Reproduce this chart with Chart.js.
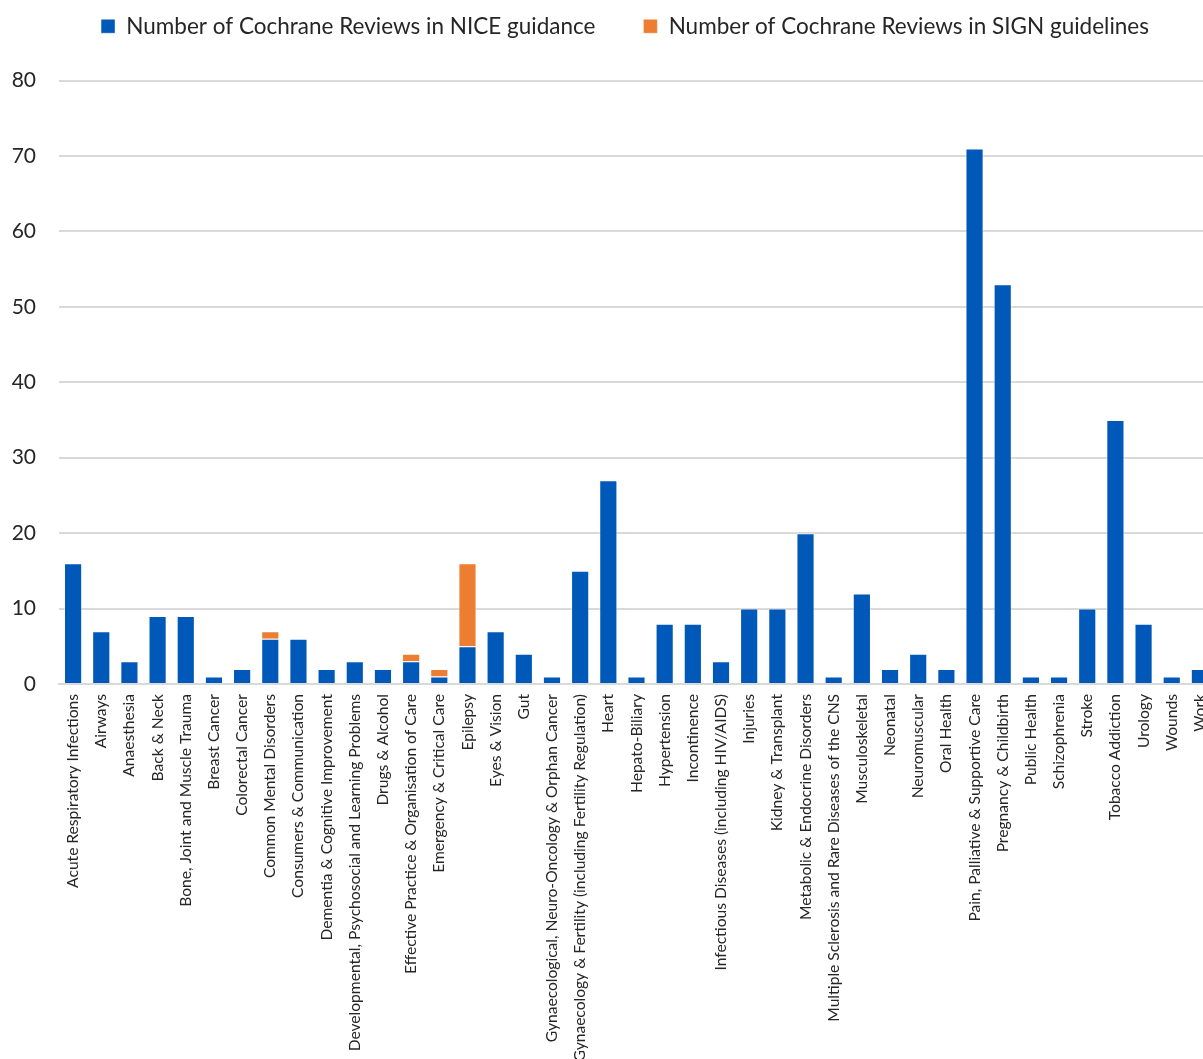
<!DOCTYPE html>
<html>
<head>
<meta charset="utf-8">
<script src="https://cdn.jsdelivr.net/npm/chart.js@4"></script>
<style>
  html, body { margin: 0; padding: 0; background: #fff; overflow: hidden; }
  #wrap { position: absolute; left: 0; top: 0; }
</style>
</head>
<body>
<div id="wrap"><canvas id="reviewsChart" width="1247" height="1090"></canvas></div>
<script>
// categories (Cochrane Review Groups)
const groups = [
    'Acute Respiratory Infections', 'Airways', 'Anaesthesia', 'Back & Neck',
    'Bone, Joint and Muscle Trauma', 'Breast Cancer', 'Colorectal Cancer',
    'Common Mental Disorders', 'Consumers & Communication',
    'Dementia & Cognitive Improvement', 'Developmental, Psychosocial and Learning Problems',
    'Drugs & Alcohol', 'Effective Practice & Organisation of Care',
    'Emergency & Critical Care', 'Epilepsy', 'Eyes & Vision', 'Gut',
    'Gynaecological, Neuro-Oncology & Orphan Cancer',
    'Gynaecology & Fertility (including Fertility Regulation)', 'Heart',
    'Hepato-Biliary', 'Hypertension', 'Incontinence',
    'Infectious Diseases (including HIV/AIDS)', 'Injuries', 'Kidney & Transplant',
    'Metabolic & Endocrine Disorders', 'Multiple Sclerosis and Rare Diseases of the CNS',
    'Musculoskeletal', 'Neonatal', 'Neuromuscular', 'Oral Health',
    'Pain, Palliative & Supportive Care', 'Pregnancy & Childbirth', 'Public Health',
    'Schizophrenia', 'Stroke', 'Tobacco Addiction', 'Urology', 'Wounds', 'Work'
];

const niceCounts = [16, 7, 3, 9, 9, 1, 2, 6, 6, 2, 3, 2, 3, 1, 5, 7, 4, 1, 15, 27,
                    1, 8, 8, 3, 10, 10, 20, 1, 12, 2, 4, 2, 71, 53, 1, 1, 10, 35, 8, 1, 2];
const signCounts = [0, 0, 0, 0, 0, 0, 0, 1, 0, 0, 0, 0, 1, 1, 11, 0, 0, 0, 0, 0,
                    0, 0, 0, 0, 0, 0, 0, 0, 0, 0, 0, 0, 0, 0, 0, 0, 0, 0, 0, 0, 0];

const yTicks = [0, 10, 20, 30, 40, 50, 60, 70, 80];

const FONT = 'Lato, "Noto Sans", sans-serif';
const TEXT = '#262626';

// legend: extra room below it, and nudged a little to the right
const legendTweak = {
    id: 'legendTweak',
    beforeInit: function(chart) {
        const origFit = chart.legend.fit;
        chart.legend.fit = function() {
            origFit.bind(chart.legend)();
            this.height += 33;
        };
    },
    afterLayout: function(chart) {
        chart.legend.left += 18;
        chart.legend.right += 18;
    }
};

new Chart(document.getElementById('reviewsChart').getContext('2d'), {
    type: 'bar',
    data: {
        labels: groups,
        datasets: [{
            label: 'Number of Cochrane Reviews in NICE guidance',
            data: niceCounts,
            backgroundColor: '#0059b8',
            borderColor: 'rgba(255,255,255,0.45)',
            borderWidth: 1
        }, {
            label: 'Number of Cochrane Reviews in SIGN guidelines',
            data: signCounts,
            backgroundColor: '#ed7d31',
            borderColor: 'rgba(255,255,255,0.45)',
            borderWidth: 1
        }]
    },
    options: {
        responsive: false,
        animation: false,
        layout: { padding: { top: -33, right: 33, bottom: 6, left: 0 } },
        datasets: { bar: { categoryPercentage: 1, barPercentage: 0.645 } },
        scales: {
            x: {
                stacked: true,
                grid: { display: false, drawTicks: false },
                border: { color: '#d9d9d9', width: 2 },
                ticks: {
                    autoSkip: false, minRotation: 90, maxRotation: 90, padding: 10,
                    color: TEXT, font: { family: FONT, size: 15.6 }
                },
                afterFit: function(scale) { scale.height = 400; }
            },
            y: {
                stacked: true,
                min: 0, max: 80,
                afterBuildTicks: function(scale) { scale.ticks = yTicks.map(v => ({ value: v })); },
                grid: { color: '#d9d9d9', lineWidth: 2, drawTicks: false },
                border: { display: false },
                ticks: { padding: 23, color: TEXT, font: { family: FONT, size: 21 } },
                afterFit: function(scale) { scale.width = 59; }
            }
        },
        plugins: {
            legend: {
                position: 'top',
                labels: {
                    boxWidth: 14, boxHeight: 14, padding: 48,
                    color: TEXT, font: { family: FONT, size: 22.5 }
                }
            },
            tooltip: { enabled: false }
        }
    },
    plugins: [legendTweak]
});
</script>
</body>
</html>
